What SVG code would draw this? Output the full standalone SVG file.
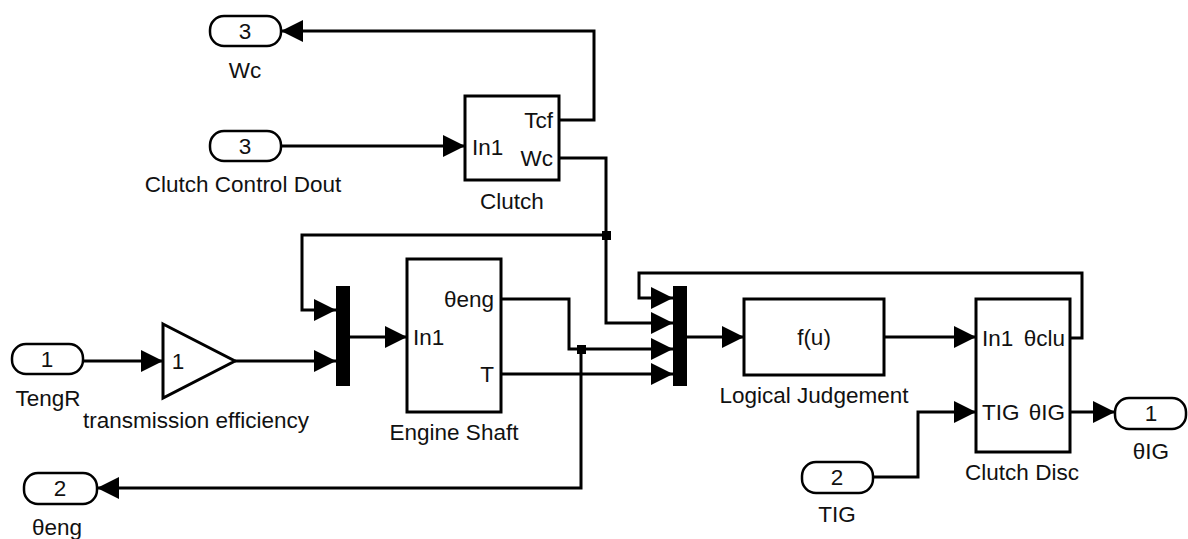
<svg xmlns="http://www.w3.org/2000/svg" width="1188" height="539" viewBox="0 0 1188 539">
<style>
text{font-family:"Liberation Sans",Arial,sans-serif;font-size:22.5px;fill:#111}
.c{text-anchor:middle}
.r{text-anchor:end}
.blk{fill:#fff;stroke:#000;stroke-width:3}
.port{fill:#fff;stroke:#000;stroke-width:2.5}
.bar{fill:#000}
.w{fill:none;stroke:#000;stroke-width:3}
</style>
<defs>
<marker id="ah" markerUnits="userSpaceOnUse" markerWidth="22" markerHeight="22" refX="20" refY="10" orient="auto" viewBox="0 0 20 20">
<path d="M0,0 L20,10 L0,20 Z" fill="#000"/>
</marker>
</defs>
<rect width="1188" height="539" fill="#fff"/>
<g id="connectors">
<path class="w" d="M281,146 H465" marker-end="url(#ah)"/>
<path class="w" d="M559,120 H594 V31 H281" marker-end="url(#ah)"/>
<path class="w" d="M559,158 H606 V323 H673" marker-end="url(#ah)"/>
<path class="w" d="M606,235 H302 V310 H336" marker-end="url(#ah)"/>
<path class="w" d="M83,361 H163" marker-end="url(#ah)"/>
<path class="w" d="M235,361 H336" marker-end="url(#ah)"/>
<path class="w" d="M350,337 H407" marker-end="url(#ah)"/>
<path class="w" d="M501,299 H569 V349 H673" marker-end="url(#ah)"/>
<path class="w" d="M581,349 V488 H97" marker-end="url(#ah)"/>
<path class="w" d="M501,374 H673" marker-end="url(#ah)"/>
<path class="w" d="M1070,338 H1082 V273 H639 V298 H673" marker-end="url(#ah)"/>
<path class="w" d="M687,337 H744" marker-end="url(#ah)"/>
<path class="w" d="M884,337 H976" marker-end="url(#ah)"/>
<path class="w" d="M873,477 H918 V412 H976" marker-end="url(#ah)"/>
<path class="w" d="M1070,412 H1115" marker-end="url(#ah)"/>
<rect x="602" y="231" width="9" height="9" fill="#000"/>
<rect x="577" y="345" width="9" height="9" fill="#000"/>
</g>
<g id="port_wc_out">
<rect class="port" x="210" y="16" width="71" height="30" rx="14"/>
<text class="c" x="245" y="39">3</text>
<text class="c" x="245" y="78">Wc</text>
</g>
<g id="port_clutch_control">
<rect class="port" x="210" y="131" width="71" height="30" rx="14"/>
<text class="c" x="245" y="154">3</text>
<text class="c" x="243" y="192">Clutch Control Dout</text>
</g>
<g id="clutch">
<rect class="blk" x="465" y="96" width="94" height="84"/>
<text x="472" y="155">In1</text>
<text class="r" x="553" y="128">Tcf</text>
<text class="r" x="553" y="166">Wc</text>
<text class="c" x="512" y="209">Clutch</text>
</g>
<g id="port_tengr">
<rect class="port" x="12" y="344" width="71" height="30" rx="14"/>
<text class="c" x="47" y="367">1</text>
<text class="c" x="48" y="406">TengR</text>
</g>
<g id="gain">
<path class="blk" d="M163,324 L235,361 L163,398 Z"/>
<text class="c" x="178" y="369">1</text>
<text class="c" x="196" y="428">transmission efficiency</text>
</g>
<g id="mux1">
<rect class="bar" x="336" y="286" width="14" height="100"/>
</g>
<g id="engine_shaft">
<rect class="blk" x="407" y="259" width="94" height="153"/>
<text x="413" y="345">In1</text>
<text class="r" x="494" y="307">θeng</text>
<text class="r" x="494" y="382">T</text>
<text class="c" x="454" y="440">Engine Shaft</text>
</g>
<g id="mux2">
<rect class="bar" x="673" y="286" width="14" height="100"/>
</g>
<g id="logical_judgement">
<rect class="blk" x="744" y="299" width="140" height="76"/>
<text class="c" x="814" y="345">f(u)</text>
<text class="c" x="814" y="403">Logical Judgement</text>
</g>
<g id="clutch_disc">
<rect class="blk" x="976" y="299" width="94" height="153"/>
<text x="982" y="346">In1</text>
<text class="r" x="1065" y="346">θclu</text>
<text x="982" y="420">TIG</text>
<text class="r" x="1065" y="420">θIG</text>
<text class="c" x="1022" y="480">Clutch Disc</text>
</g>
<g id="port_thetaig">
<rect class="port" x="1115" y="398" width="71" height="31" rx="14"/>
<text class="c" x="1151" y="421">1</text>
<text class="c" x="1151" y="459">θIG</text>
</g>
<g id="port_tig">
<rect class="port" x="802" y="462" width="71" height="31" rx="14"/>
<text class="c" x="837" y="485">2</text>
<text class="c" x="837" y="522">TIG</text>
</g>
<g id="port_thetaeng">
<rect class="port" x="24" y="473" width="73" height="31" rx="14"/>
<text class="c" x="60" y="496">2</text>
<text class="c" x="57" y="535">θeng</text>
</g>
</svg>
